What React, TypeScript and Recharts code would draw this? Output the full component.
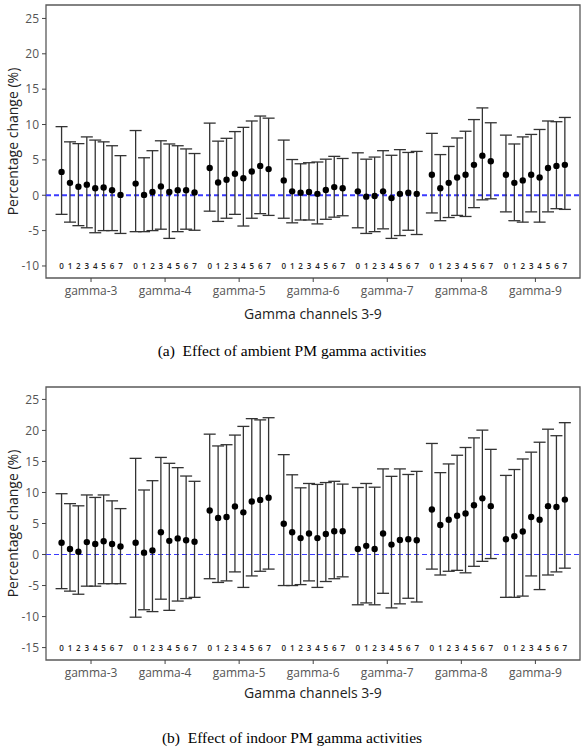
import { ComposedChart, Scatter, ErrorBar, XAxis, YAxis, ReferenceLine, ReferenceArea } from "recharts";

const gammaChannels = ["gamma-3", "gamma-4", "gamma-5", "gamma-6", "gamma-7", "gamma-8", "gamma-9"];
const lags = [0, 1, 2, 3, 4, 5, 6, 7];

// (a) ambient PM, one row per gamma channel, one value per lag 0-7
const ambientEstimate = [
  [3.3, 1.75, 1.2, 1.5, 1.0, 1.1, 0.7, 0.05],
  [1.65, 0.05, 0.45, 1.25, 0.45, 0.7, 0.7, 0.4],
  [3.85, 1.8, 2.2, 3.05, 2.4, 3.35, 4.15, 3.7],
  [2.1, 0.55, 0.35, 0.45, 0.2, 0.75, 1.15, 1.0],
  [0.55, -0.2, -0.1, 0.55, -0.4, 0.2, 0.35, 0.2],
  [2.9, 1.0, 1.75, 2.5, 2.9, 4.3, 5.6, 4.8],
  [2.9, 1.75, 2.1, 2.9, 2.5, 3.85, 4.15, 4.3],
];
const ambientLower = [
  [-2.7, -3.8, -4.3, -4.6, -5.3, -5.0, -5.0, -5.4],
  [-5.15, -5.15, -5.0, -4.8, -6.1, -5.15, -4.8, -4.95],
  [-2.25, -3.7, -3.25, -2.7, -4.35, -3.25, -2.6, -2.85],
  [-3.25, -3.9, -3.5, -3.5, -4.05, -3.4, -3.1, -2.9],
  [-4.6, -5.4, -5.15, -4.75, -6.1, -5.7, -4.95, -5.55],
  [-2.5, -3.6, -3.15, -2.85, -3.0, -1.75, -0.65, -0.5],
  [-2.35, -3.6, -3.8, -2.35, -3.8, -2.35, -1.9, -2.0],
];
const ambientUpper = [
  [9.7, 7.55, 7.3, 8.25, 7.8, 7.55, 7.0, 5.6],
  [9.15, 5.3, 6.3, 7.7, 7.25, 7.0, 6.55, 5.9],
  [10.2, 7.65, 8.05, 9.0, 9.6, 10.5, 11.2, 10.9],
  [7.8, 5.05, 4.45, 4.6, 4.7, 5.1, 5.5, 5.2],
  [6.0, 5.1, 5.4, 6.3, 5.65, 6.45, 6.05, 6.2],
  [8.75, 5.75, 6.9, 8.1, 9.05, 10.7, 12.35, 10.25],
  [8.5, 7.25, 8.25, 8.6, 9.3, 10.5, 10.4, 11.0],
];

// (b) indoor PM
const indoorEstimate = [
  [1.9, 0.9, 0.45, 2.0, 1.7, 2.15, 1.7, 1.3],
  [1.9, 0.3, 0.65, 3.6, 2.2, 2.6, 2.3, 2.05],
  [7.1, 5.9, 6.05, 7.75, 6.8, 8.55, 8.8, 9.15],
  [4.95, 3.6, 2.65, 3.4, 2.65, 3.3, 3.75, 3.75],
  [0.9, 1.4, 0.9, 3.4, 1.6, 2.35, 2.45, 2.3],
  [7.25, 4.75, 5.6, 6.25, 6.6, 7.95, 9.05, 7.8],
  [2.45, 2.95, 3.7, 6.05, 5.6, 7.8, 7.65, 8.85],
];
const indoorLower = [
  [-5.5, -5.9, -6.4, -5.1, -5.1, -4.7, -4.7, -4.7],
  [-10.1, -8.9, -9.2, -7.2, -9.0, -7.5, -7.1, -6.9],
  [-3.9, -4.5, -4.25, -2.8, -5.3, -3.45, -2.7, -2.35],
  [-5.0, -5.0, -4.85, -4.25, -5.3, -4.35, -3.9, -3.6],
  [-8.1, -7.8, -8.1, -6.25, -8.6, -7.95, -7.05, -7.65],
  [-2.35, -3.3, -2.7, -2.55, -2.95, -1.9, -1.1, -0.65],
  [-6.9, -6.9, -6.7, -3.45, -5.65, -3.3, -2.8, -2.2],
];
const indoorUpper = [
  [9.8, 8.2, 7.85, 9.6, 9.2, 9.6, 8.65, 7.4],
  [15.5, 10.4, 11.9, 15.65, 14.7, 14.0, 12.65, 11.8],
  [19.4, 17.5, 17.7, 19.25, 20.65, 21.9, 21.7, 22.05],
  [16.1, 12.85, 10.75, 11.45, 11.3, 11.6, 11.8, 11.35],
  [10.8, 11.45, 10.85, 13.8, 12.6, 13.8, 12.9, 13.4],
  [17.9, 13.2, 14.6, 16.0, 17.25, 18.8, 20.05, 16.95],
  [12.75, 13.7, 15.4, 16.5, 18.1, 20.2, 19.15, 21.25],
];

const ambientTicks = [-10, -5, 0, 5, 10, 15, 20, 25];
const indoorTicks = [-15, -10, -5, 0, 5, 10, 15, 20, 25];

const GROUP_STEP = 8.8;
const X_MIN = -1.85;
const X_MAX = (gammaChannels.length - 1) * GROUP_STEP + 7 + 1.8;
const groupTicks = gammaChannels.map((_, g) => g * GROUP_STEP + 3.5);

const sans = "'Open Sans', 'Liberation Sans', Arial, sans-serif";
const serif = "'Liberation Serif', 'Times New Roman', serif";

const buildRows = (est: number[][], lo: number[][], hi: number[][]) =>
  gammaChannels.flatMap((_, g) =>
    lags.map((lag, i) => ({
      x: g * GROUP_STEP + lag,
      y: est[g][i],
      err: [est[g][i] - lo[g][i], hi[g][i] - est[g][i]],
    }))
  );

const Dot = (props: any) => <circle cx={props.cx} cy={props.cy} r={3.2} fill="#000" />;

const LagText = (props: any) => (
  <text x={props.cx} y={props.cy} textAnchor="middle" dominantBaseline="central" fontSize={8} fontFamily={sans} fill="#222" fontWeight={600}>
    {props.payload.lag}
  </text>
);

const Panel = ({ est, lo, hi, ticks, domain, zeroWidth }: any) => {
  const rows = buildRows(est, lo, hi);
  const lagRows = gammaChannels.flatMap((_, g) => lags.map((lag) => ({ x: g * GROUP_STEP + lag, y: ticks[0], lag })));
  return (
    <ComposedChart width={586} height={300} margin={{ top: 5, right: 6, bottom: 0, left: 0 }}>
      <XAxis
        type="number"
        dataKey="x"
        domain={[X_MIN, X_MAX]}
        ticks={groupTicks}
        interval={0}
        allowDataOverflow
        tickFormatter={(v: number) => gammaChannels[Math.round((v - 3.5) / GROUP_STEP)]}
        axisLine={false}
        tickLine={{ stroke: "#444" }}
        tickSize={4}
        tickMargin={4}
        height={22}
        tick={{ fill: "#555", fontSize: 12, fontFamily: sans }}
      />
      <YAxis
        type="number"
        dataKey="y"
        domain={domain}
        ticks={ticks}
        interval={0}
        allowDataOverflow
        axisLine={false}
        tickLine={{ stroke: "#444" }}
        tickSize={4}
        tickMargin={3}
        width={46}
        tick={{ fill: "#555", fontSize: 12, fontFamily: sans }}
        label={{
          value: "Percentage change (%)",
          angle: -90,
          position: "insideLeft",
          offset: 13,
          style: { textAnchor: "middle", fontSize: 14, fill: "#222", fontFamily: sans },
        }}
      />
      <ReferenceArea x1={X_MIN} x2={X_MAX} y1={domain[0]} y2={domain[1]} fill="none" stroke="#595959" strokeWidth={1.3} ifOverflow="visible" />
      <ReferenceLine y={0} stroke="#3b3bff" strokeDasharray="5 3" strokeWidth={zeroWidth} />
      <Scatter data={lagRows} shape={LagText} isAnimationActive={false} />
      <Scatter data={rows} shape={Dot} isAnimationActive={false}>
        <ErrorBar dataKey="err" direction="y" width={6} stroke="#333" strokeWidth={1.3} />
      </Scatter>
    </ComposedChart>
  );
};

const textAt = (top: number, size: number, family: string, color: string): React.CSSProperties => ({
  position: "absolute",
  top,
  left: 0,
  width: 586,
  textAlign: "center",
  fontSize: size,
  fontFamily: family,
  color,
  lineHeight: "20px",
  whiteSpace: "pre",
});

export default function App() {
  return (
    <div style={{ position: "absolute", left: 0, top: 0, width: 586, height: 750, background: "#fff" }}>
      <div style={{ position: "absolute", left: 0, top: 0 }}>
        <Panel est={ambientEstimate} lo={ambientLower} hi={ambientUpper} ticks={ambientTicks} domain={[-11.7, 26.9]} zeroWidth={2} />
      </div>
      <div style={{ ...textAt(304, 14, sans, "#222"), left: 40, width: 546 }}>Gamma channels 3-9</div>
      <div style={{ ...textAt(341, 15.5, serif, "#000"), left: -1 }}>(a)  Effect of ambient PM gamma activities</div>

      <div style={{ position: "absolute", left: 0, top: 382 }}>
        <Panel est={indoorEstimate} lo={indoorLower} hi={indoorUpper} ticks={indoorTicks} domain={[-17, 27]} zeroWidth={1.2} />
      </div>
      <div style={{ ...textAt(683, 14, sans, "#222"), left: 40, width: 546 }}>Gamma channels 3-9</div>
      <div style={{ ...textAt(728, 15.5, serif, "#000"), left: -1 }}>(b)  Effect of indoor PM gamma activities</div>
    </div>
  );
}
